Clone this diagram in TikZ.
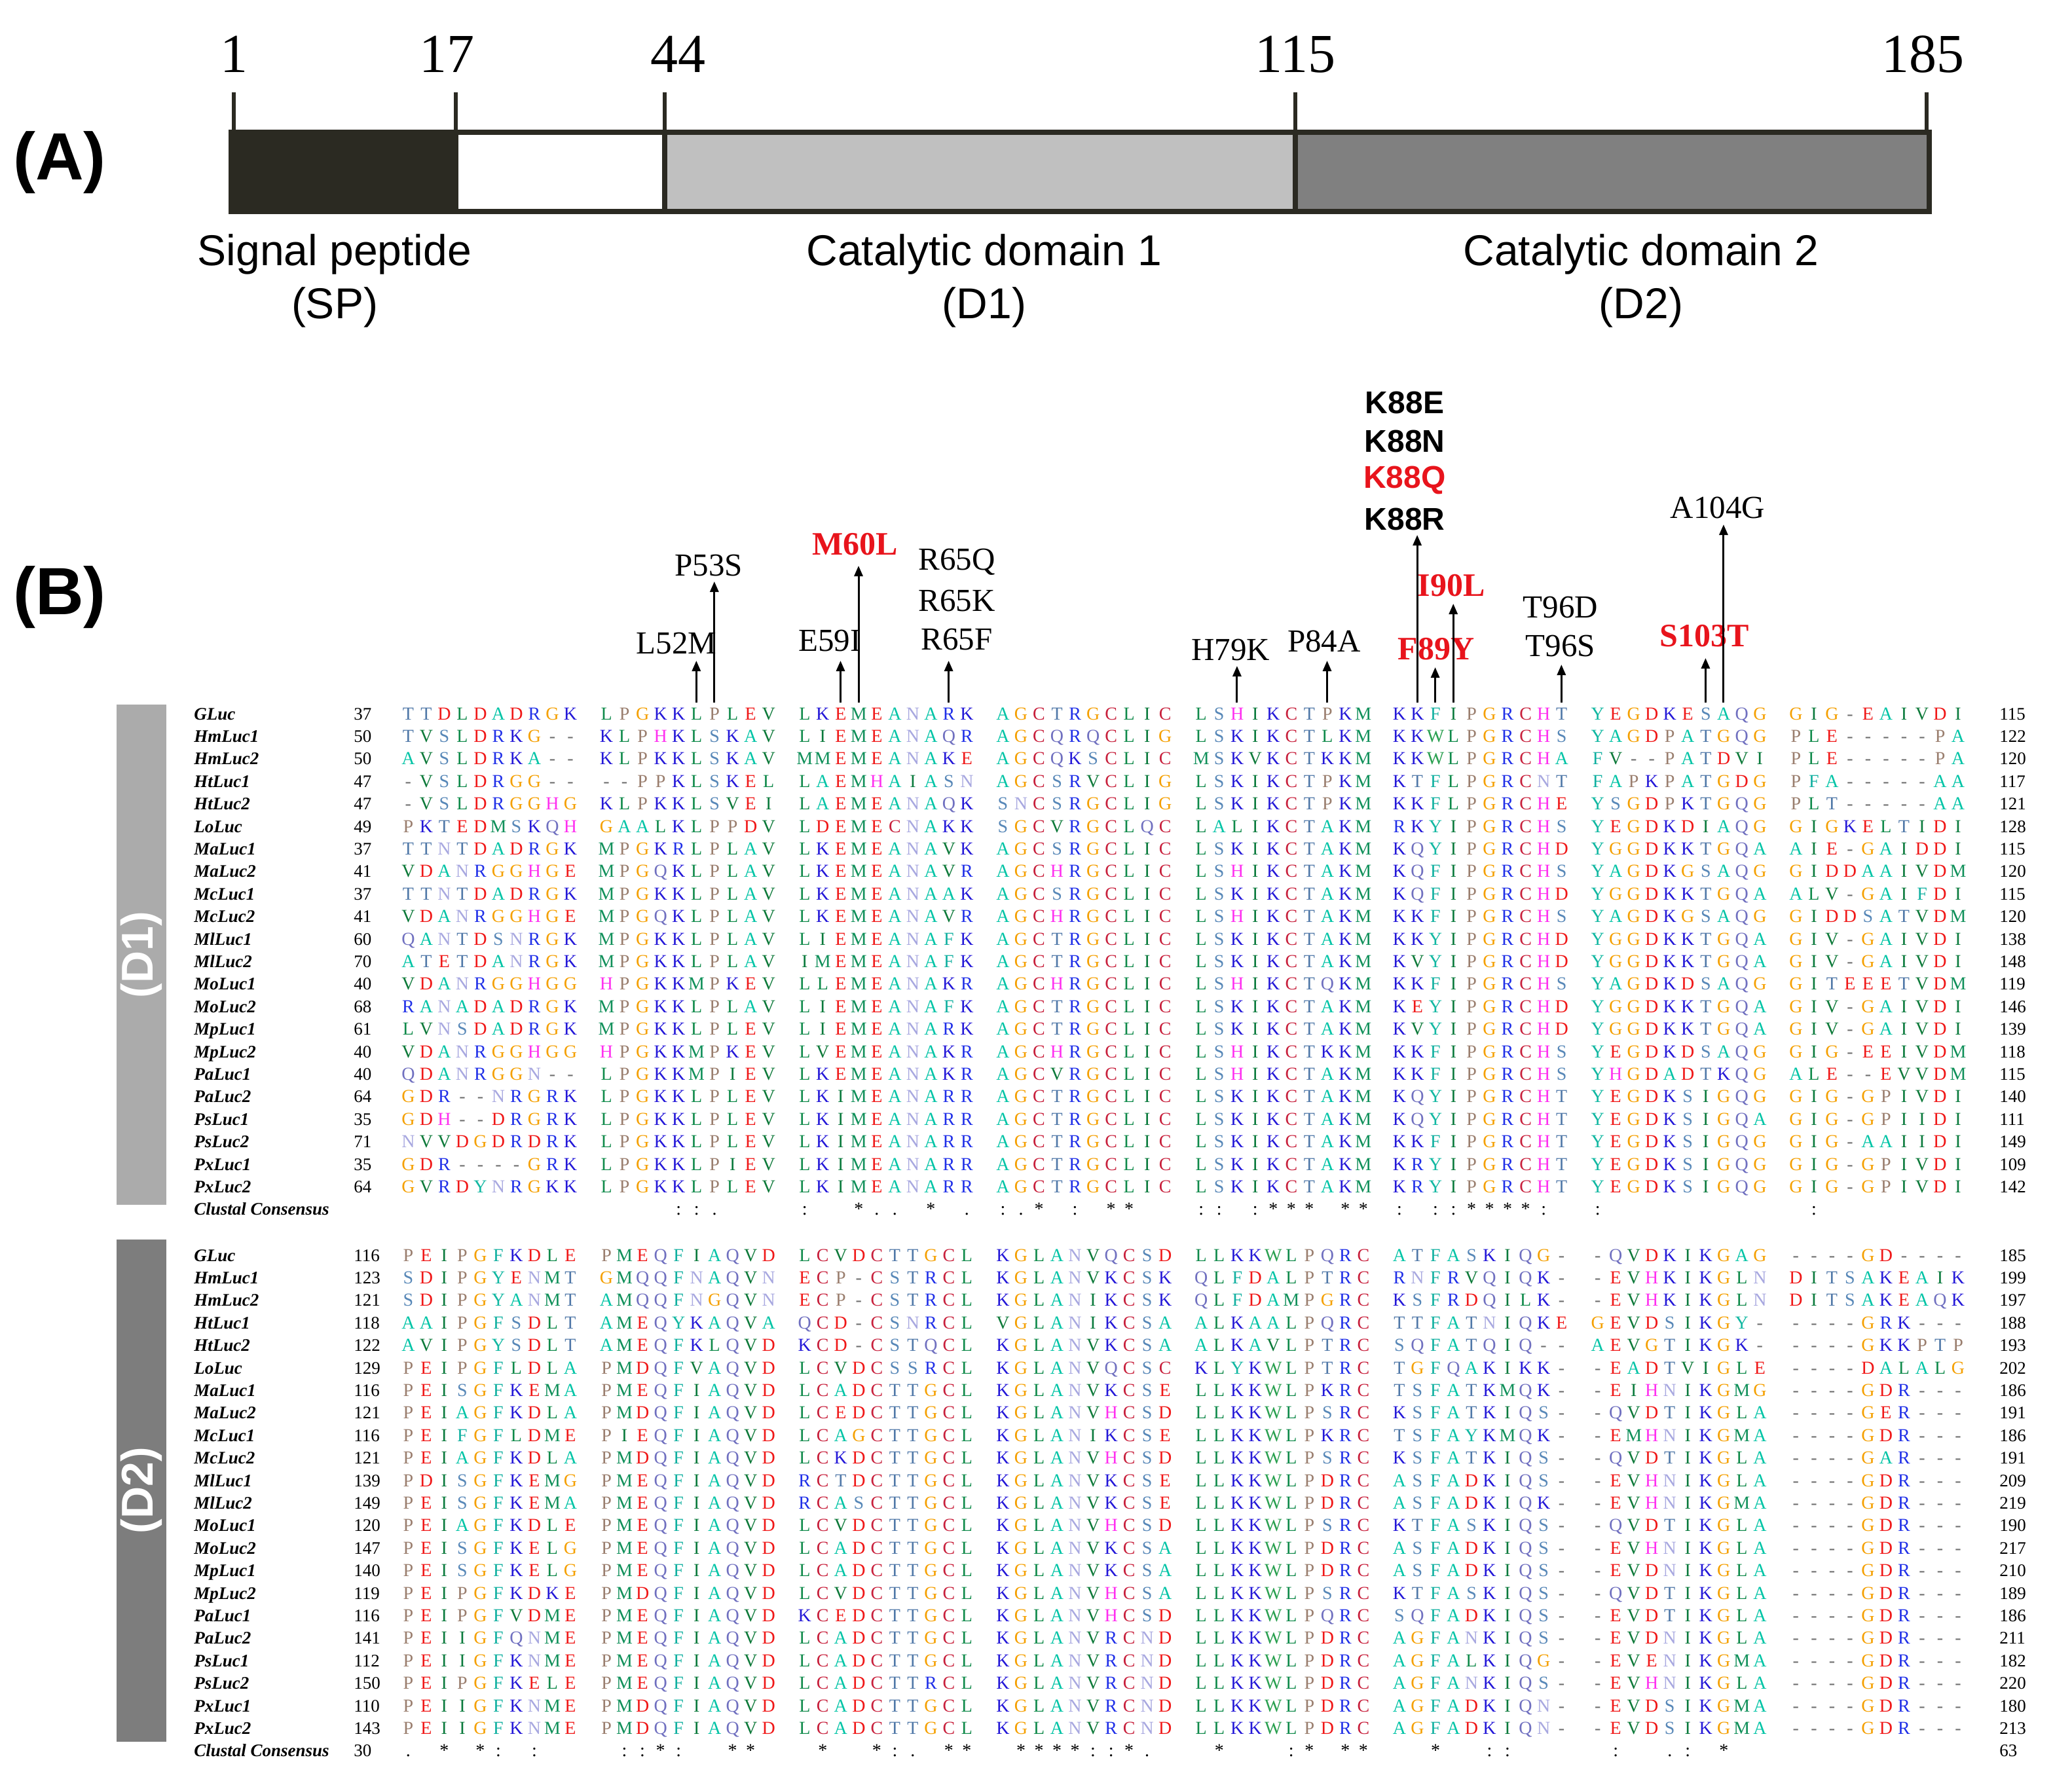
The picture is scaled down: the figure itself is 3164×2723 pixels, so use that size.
\documentclass[tikz,border=0pt]{standalone}
\usepackage{fontspec}
\setmainfont{Liberation Serif}
\newfontfamily\arialf{Liberation Sans}
\usetikzlibrary{arrows.meta}
\definecolor{spdark}{HTML}{2B2A22}
\definecolor{dgrayA}{HTML}{C0C0C0}
\definecolor{dgrayB}{HTML}{808080}
\definecolor{sideA}{HTML}{ABABAB}
\definecolor{sideB}{HTML}{7D7D7D}
\definecolor{mutred}{HTML}{E8141C}

\newdimen\aapitch \aapitch=13.76pt
\def\aadef#1#2{\expandafter\def\csname aac#1\endcsname{\color[HTML]{#2}}}
\aadef A{00C4A6}
\aadef C{C8203C}
\aadef D{F01818}
\aadef E{F01818}
\aadef F{10B0A0}
\aadef G{F5A000}
\aadef H{FF30F0}
\aadef I{0A7A3C}
\aadef K{2418D8}
\aadef L{0F8A4A}
\aadef M{10905A}
\aadef N{A8A8E0}
\aadef P{9A7E6E}
\aadef Q{7070C0}
\aadef R{2030E8}
\aadef S{5888B8}
\aadef T{5078A8}
\aadef V{0E7A3A}
\aadef W{2AA050}
\aadef Y{12B8A2}
\aadef -{707070}
\def\aabox#1{\ifx#1|\hbox to\aapitch{}\else\hbox to\aapitch{\hss\csname aac#1\endcsname #1\hss}\fi}
\def\aaseq#1{\aaloop#1\relax}
\def\aaloop#1{\ifx#1\relax\else\aabox{#1}\expandafter\aaloop\fi}
\def\cbox#1{\hbox to\aapitch{\hss\ifx#1x\else\ifx#1|\else#1\fi\fi\hss}}
\def\conseq#1{\conloop#1\relax}
\def\conloop#1{\ifx#1\relax\else\cbox{#1}\expandafter\conloop\fi}

\tikzset{
 namelab/.style={anchor=base west, inner sep=0pt, font=\fontsize{13.5}{15}\selectfont\bfseries\itshape},
 numlab/.style={anchor=base west, inner sep=0pt, font=\fontsize{13.5}{15}\selectfont},
 seqlab/.style={anchor=base west, inner sep=0pt, font=\fontsize{14}{16}\selectfont},
 topnum/.style={anchor=base, inner sep=0pt, font=\fontsize{42}{46}\selectfont},
 domlab/.style={anchor=base, inner sep=0pt, font=\arialf\fontsize{33}{40}\selectfont},
 panlab/.style={anchor=center, inner sep=0pt, font=\arialf\bfseries\fontsize{51}{56}\selectfont},
 sidelab/.style={rotate=90, text=white, inner sep=0pt, font=\arialf\bfseries\fontsize{34}{38}\selectfont},
 ann/.style={anchor=center, inner sep=0pt, font=\fontsize{24.5}{28}\selectfont},
 annred/.style={anchor=center, inner sep=0pt, text=mutred, font=\bfseries\fontsize{25}{28}\selectfont},
 annk/.style={anchor=center, inner sep=0pt, font=\arialf\bfseries\fontsize{24}{27}\selectfont},
 mutarrow/.style={-{Triangle[length=8pt,width=6.5pt]}, line width=1.5pt},
 barline/.style={draw=spdark, line width=4pt},
 tickline/.style={draw=spdark, line width=3pt},
}

\newcommand\alnrow[6]{%
 \node[namelab] (#1n) at (296,#2) {#3};
 \node[numlab] (#1s) at (540,#2) {#4};
 \node[seqlab] (#1q) at (609.2,#2) {\aaseq{#5}};
 \node[numlab] (#1e) at (3053,#2) {#6};}

\begin{document}
\begin{tikzpicture}[x=0.5pt,y=-0.5pt]
\fill[white] (0,0) rectangle (3164,2723);
\useasboundingbox (0,0) rectangle (3164,2723);

% ---------- (A) ----------
\node[panlab] (labA) at (91,248) {(A)};
\fill[spdark] (353,202) rectangle (696,323);
\fill[white] (696,202) rectangle (1015,323);
\fill[dgrayA] (1015,202) rectangle (1978,323);
\fill[dgrayB] (1978,202) rectangle (2946,323);
\draw[barline] (353,202) rectangle (2946,323);
\draw[barline] (696,202) -- (696,323);
\draw[barline] (1015,202) -- (1015,323);
\draw[barline] (1978,202) -- (1978,323);
\draw[tickline] (357,141) -- (357,202);
\draw[tickline] (696,141) -- (696,202);
\draw[tickline] (1015,141) -- (1015,202);
\draw[tickline] (1978,141) -- (1978,202);
\draw[tickline] (2942,141) -- (2942,202);
\node[topnum] (n1) at (357,111) {1};
\node[topnum] (n17) at (682,111) {17};
\node[topnum] (n44) at (1035,111) {44};
\node[topnum] (n115) at (1978,111) {115};
\node[topnum] (n185) at (2936,111) {185};
\node[domlab] (sp1) at (511,406) {Signal peptide};
\node[domlab] (sp2) at (511,487) {(SP)};
\node[domlab] (d11) at (1503,406) {Catalytic domain 1};
\node[domlab] (d12) at (1503,487) {(D1)};
\node[domlab] (d21) at (2506,406) {Catalytic domain 2};
\node[domlab] (d22) at (2506,487) {(D2)};

% ---------- (B) ----------
\node[panlab] (labB) at (91,912) {(B)};
\fill[sideA] (178,1076) rectangle (254,1840);
\node[sidelab] (sideD1) at (216,1458) {(D1)};
\fill[sideB] (178,1893) rectangle (254,2660);
\node[sidelab] (sideD2) at (216,2276) {(D2)};

% mutation labels
\node[ann] (mL52M) at (1033,983) {L52M};
\node[ann] (mP53S) at (1082,864) {P53S};
\node[annred] (mM60L) at (1306,831) {M60L};
\node[ann] (mE59I) at (1267,979) {E59I};
\node[ann] (mR65Q) at (1461,858) {R65Q};
\node[ann] (mR65K) at (1461,918) {R65K};
\node[ann] (mR65F) at (1461,977) {R65F};
\node[ann] (mH79K) at (1879,993) {H79K};
\node[ann] (mP84A) at (2022,979) {P84A};
\node[annk] (mK88E) at (2145,615) {K88E};
\node[annk] (mK88N) at (2145,674) {K88N};
\node[annk,text=mutred] (mK88Q) at (2145,733) {K88Q};
\node[annk] (mK88R) at (2145,793) {K88R};
\node[annred] (mI90L) at (2216,894) {I90L};
\node[annred] (mF89Y) at (2193,991) {F89Y};
\node[ann] (mT96D) at (2383,928) {T96D};
\node[ann] (mT96S) at (2383,987) {T96S};
\node[annred] (mS103T) at (2603,971) {S103T};
\node[ann] (mA104G) at (2623,775) {A104G};

% arrows
\foreach \nm/\xx/\tt in {L52/1063.3/1009, P53/1090.8/888, E59/1283.5/1009, M60/1311/864,
  R65/1448.6/1009, H79/1888.9/1017, P84/2026.5/1009, K88/2164.1/817, F89/2191.6/1019,
  I90/2219.2/922, T96/2384.3/1015, S103/2604.4/1005, A104/2631.9/801}{
  \coordinate (b\nm) at (\xx,1073);
  \coordinate (t\nm) at (\xx,\tt);
  \draw[mutarrow] (b\nm) -- (t\nm);
}

% ---------- D1 alignment ----------
\alnrow{da1}{1099+34.4*0}{GLuc}{37}{TTDLDADRGK|LPGKKLPLEV|LKEMEANARK|AGCTRGCLIC|LSHIKCTPKM|KKFIPGRCHT|YEGDKESAQG|GIG-EAIVDI}{115}
\alnrow{da2}{1099+34.4*1}{HmLuc1}{50}{TVSLDRKG--|KLPHKLSKAV|LIEMEANAQR|AGCQRQCLIG|LSKIKCTLKM|KKWLPGRCHS|YAGDPATGQG|PLE-----PA}{122}
\alnrow{da3}{1099+34.4*2}{HmLuc2}{50}{AVSLDRKA--|KLPKKLSKAV|MMEMEANAKE|AGCQKSCLIC|MSKVKCTKKM|KKWLPGRCHA|FV--PATDVI|PLE-----PA}{120}
\alnrow{da4}{1099+34.4*3}{HtLuc1}{47}{-VSLDRGG--|--PPKLSKEL|LAEMHAIASN|AGCSRVCLIG|LSKIKCTPKM|KTFLPGRCNT|FAPKPATGDG|PFA-----AA}{117}
\alnrow{da5}{1099+34.4*4}{HtLuc2}{47}{-VSLDRGGHG|KLPKKLSVEI|LAEMEANAQK|SNCSRGCLIG|LSKIKCTPKM|KKFLPGRCHE|YSGDPKTGQG|PLT-----AA}{121}
\alnrow{da6}{1099+34.4*5}{LoLuc}{49}{PKTEDMSKQH|GAALKLPPDV|LDEMECNAKK|SGCVRGCLQC|LALIKCTAKM|RKYIPGRCHS|YEGDKDIAQG|GIGKELTIDI}{128}
\alnrow{da7}{1099+34.4*6}{MaLuc1}{37}{TTNTDADRGK|MPGKRLPLAV|LKEMEANAVK|AGCSRGCLIC|LSKIKCTAKM|KQYIPGRCHD|YGGDKKTGQA|AIE-GAIDDI}{115}
\alnrow{da8}{1099+34.4*7}{MaLuc2}{41}{VDANRGGHGE|MPGQKLPLAV|LKEMEANAVR|AGCHRGCLIC|LSHIKCTAKM|KQFIPGRCHS|YAGDKGSAQG|GIDDAAIVDM}{120}
\alnrow{da9}{1099+34.4*8}{McLuc1}{37}{TTNTDADRGK|MPGKKLPLAV|LKEMEANAAK|AGCSRGCLIC|LSKIKCTAKM|KQFIPGRCHD|YGGDKKTGQA|ALV-GAIFDI}{115}
\alnrow{da10}{1099+34.4*9}{McLuc2}{41}{VDANRGGHGE|MPGQKLPLAV|LKEMEANAVR|AGCHRGCLIC|LSHIKCTAKM|KKFIPGRCHS|YAGDKGSAQG|GIDDSATVDM}{120}
\alnrow{da11}{1099+34.4*10}{MlLuc1}{60}{QANTDSNRGK|MPGKKLPLAV|LIEMEANAFK|AGCTRGCLIC|LSKIKCTAKM|KKYIPGRCHD|YGGDKKTGQA|GIV-GAIVDI}{138}
\alnrow{da12}{1099+34.4*11}{MlLuc2}{70}{ATETDANRGK|MPGKKLPLAV|IMEMEANAFK|AGCTRGCLIC|LSKIKCTAKM|KVYIPGRCHD|YGGDKKTGQA|GIV-GAIVDI}{148}
\alnrow{da13}{1099+34.4*12}{MoLuc1}{40}{VDANRGGHGG|HPGKKMPKEV|LLEMEANAKR|AGCHRGCLIC|LSHIKCTQKM|KKFIPGRCHS|YAGDKDSAQG|GITEEETVDM}{119}
\alnrow{da14}{1099+34.4*13}{MoLuc2}{68}{RANADADRGK|MPGKKLPLAV|LIEMEANAFK|AGCTRGCLIC|LSKIKCTAKM|KEYIPGRCHD|YGGDKKTGQA|GIV-GAIVDI}{146}
\alnrow{da15}{1099+34.4*14}{MpLuc1}{61}{LVNSDADRGK|MPGKKLPLEV|LIEMEANARK|AGCTRGCLIC|LSKIKCTAKM|KVYIPGRCHD|YGGDKKTGQA|GIV-GAIVDI}{139}
\alnrow{da16}{1099+34.4*15}{MpLuc2}{40}{VDANRGGHGG|HPGKKMPKEV|LVEMEANAKR|AGCHRGCLIC|LSHIKCTKKM|KKFIPGRCHS|YEGDKDSAQG|GIG-EEIVDM}{118}
\alnrow{da17}{1099+34.4*16}{PaLuc1}{40}{QDANRGGN--|LPGKKMPIEV|LKEMEANAKR|AGCVRGCLIC|LSHIKCTAKM|KKFIPGRCHS|YHGDADTKQG|ALE--EVVDM}{115}
\alnrow{da18}{1099+34.4*17}{PaLuc2}{64}{GDR--NRGRK|LPGKKLPLEV|LKIMEANARR|AGCTRGCLIC|LSKIKCTAKM|KQYIPGRCHT|YEGDKSIGQG|GIG-GPIVDI}{140}
\alnrow{da19}{1099+34.4*18}{PsLuc1}{35}{GDH--DRGRK|LPGKKLPLEV|LKIMEANARR|AGCTRGCLIC|LSKIKCTAKM|KQYIPGRCHT|YEGDKSIGQA|GIG-GPIIDI}{111}
\alnrow{da20}{1099+34.4*19}{PsLuc2}{71}{NVVDGDRDRK|LPGKKLPLEV|LKIMEANARR|AGCTRGCLIC|LSKIKCTAKM|KKFIPGRCHT|YEGDKSIGQG|GIG-AAIIDI}{149}
\alnrow{da21}{1099+34.4*20}{PxLuc1}{35}{GDR----GRK|LPGKKLPIEV|LKIMEANARR|AGCTRGCLIC|LSKIKCTAKM|KRYIPGRCHT|YEGDKSIGQG|GIG-GPIVDI}{109}
\alnrow{da22}{1099+34.4*21}{PxLuc2}{64}{GVRDYNRGKK|LPGKKLPLEV|LKIMEANARR|AGCTRGCLIC|LSKIKCTAKM|KRYIPGRCHT|YEGDKSIGQG|GIG-GPIVDI}{142}
\node[namelab] (dacn) at (296,1099+34.4*22) {Clustal Consensus};
\node[seqlab] (dacq) at (609.2,1099+34.4*22) {\conseq{xxxxxxxxxx|xxxx::.xxx|:xx*..x*x.|:.*x:x**xx|::x:***x**|:x::****:x|:xxxxxxxxx|x:xxxxxxxx}};

% ---------- D2 alignment ----------
\alnrow{db1}{1926+34.4*0}{GLuc}{116}{PEIPGFKDLE|PMEQFIAQVD|LCVDCTTGCL|KGLANVQCSD|LLKKWLPQRC|ATFASKIQG-|-QVDKIKGAG|----GD----}{185}
\alnrow{db2}{1926+34.4*1}{HmLuc1}{123}{SDIPGYENMT|GMQQFNAQVN|ECP-CSTRCL|KGLANVKCSK|QLFDALPTRC|RNFRVQIQK-|-EVHKIKGLN|DITSAKEAIK}{199}
\alnrow{db3}{1926+34.4*2}{HmLuc2}{121}{SDIPGYANMT|AMQQFNGQVN|ECP-CSTRCL|KGLANIKCSK|QLFDAMPGRC|KSFRDQILK-|-EVHKIKGLN|DITSAKEAQK}{197}
\alnrow{db4}{1926+34.4*3}{HtLuc1}{118}{AAIPGFSDLT|AMEQYKAQVA|QCD-CSNRCL|VGLANIKCSA|ALKAALPQRC|TTFATNIQKE|GEVDSIKGY-|----GRK---}{188}
\alnrow{db5}{1926+34.4*4}{HtLuc2}{122}{AVIPGYSDLT|AMEQFKLQVD|KCD-CSTQCL|KGLANVKCSA|ALKAVLPTRC|SQFATQIQ--|AEVGTIKGK-|----GKKPTP}{193}
\alnrow{db6}{1926+34.4*5}{LoLuc}{129}{PEIPGFLDLA|PMDQFVAQVD|LCVDCSSRCL|KGLANVQCSC|KLYKWLPTRC|TGFQAKIKK-|-EADTVIGLE|----DALALG}{202}
\alnrow{db7}{1926+34.4*6}{MaLuc1}{116}{PEISGFKEMA|PMEQFIAQVD|LCADCTTGCL|KGLANVKCSE|LLKKWLPKRC|TSFATKMQK-|-EIHNIKGMG|----GDR---}{186}
\alnrow{db8}{1926+34.4*7}{MaLuc2}{121}{PEIAGFKDLA|PMDQFIAQVD|LCEDCTTGCL|KGLANVHCSD|LLKKWLPSRC|KSFATKIQS-|-QVDTIKGLA|----GER---}{191}
\alnrow{db9}{1926+34.4*8}{McLuc1}{116}{PEIFGFLDME|PIEQFIAQVD|LCAGCTTGCL|KGLANIKCSE|LLKKWLPKRC|TSFAYKMQK-|-EMHNIKGMA|----GDR---}{186}
\alnrow{db10}{1926+34.4*9}{McLuc2}{121}{PEIAGFKDLA|PMDQFIAQVD|LCKDCTTGCL|KGLANVHCSD|LLKKWLPSRC|KSFATKIQS-|-QVDTIKGLA|----GAR---}{191}
\alnrow{db11}{1926+34.4*10}{MlLuc1}{139}{PDISGFKEMG|PMEQFIAQVD|RCTDCTTGCL|KGLANVKCSE|LLKKWLPDRC|ASFADKIQS-|-EVHNIKGLA|----GDR---}{209}
\alnrow{db12}{1926+34.4*11}{MlLuc2}{149}{PEISGFKEMA|PMEQFIAQVD|RCASCTTGCL|KGLANVKCSE|LLKKWLPDRC|ASFADKIQK-|-EVHNIKGMA|----GDR---}{219}
\alnrow{db13}{1926+34.4*12}{MoLuc1}{120}{PEIAGFKDLE|PMEQFIAQVD|LCVDCTTGCL|KGLANVHCSD|LLKKWLPSRC|KTFASKIQS-|-QVDTIKGLA|----GDR---}{190}
\alnrow{db14}{1926+34.4*13}{MoLuc2}{147}{PEISGFKELG|PMEQFIAQVD|LCADCTTGCL|KGLANVKCSA|LLKKWLPDRC|ASFADKIQS-|-EVHNIKGLA|----GDR---}{217}
\alnrow{db15}{1926+34.4*14}{MpLuc1}{140}{PEISGFKELG|PMEQFIAQVD|LCADCTTGCL|KGLANVKCSA|LLKKWLPDRC|ASFADKIQS-|-EVDNIKGLA|----GDR---}{210}
\alnrow{db16}{1926+34.4*15}{MpLuc2}{119}{PEIPGFKDKE|PMDQFIAQVD|LCVDCTTGCL|KGLANVHCSA|LLKKWLPSRC|KTFASKIQS-|-QVDTIKGLA|----GDR---}{189}
\alnrow{db17}{1926+34.4*16}{PaLuc1}{116}{PEIPGFVDME|PMEQFIAQVD|KCEDCTTGCL|KGLANVHCSD|LLKKWLPQRC|SQFADKIQS-|-EVDTIKGLA|----GDR---}{186}
\alnrow{db18}{1926+34.4*17}{PaLuc2}{141}{PEIIGFQNME|PMEQFIAQVD|LCADCTTGCL|KGLANVRCND|LLKKWLPDRC|AGFANKIQS-|-EVDNIKGLA|----GDR---}{211}
\alnrow{db19}{1926+34.4*18}{PsLuc1}{112}{PEIIGFKNME|PMEQFIAQVD|LCADCTTGCL|KGLANVRCND|LLKKWLPDRC|AGFALKIQG-|-EVENIKGMA|----GDR---}{182}
\alnrow{db20}{1926+34.4*19}{PsLuc2}{150}{PEIPGFKELE|PMEQFIAQVD|LCADCTTRCL|KGLANVRCND|LLKKWLPDRC|AGFANKIQS-|-EVHNIKGLA|----GDR---}{220}
\alnrow{db21}{1926+34.4*20}{PxLuc1}{110}{PEIIGFKNME|PMDQFIAQVD|LCADCTTGCL|KGLANVRCND|LLKKWLPDRC|AGFADKIQN-|-EVDSIKGMA|----GDR---}{180}
\alnrow{db22}{1926+34.4*21}{PxLuc2}{143}{PEIIGFKNME|PMDQFIAQVD|LCADCTTGCL|KGLANVRCND|LLKKWLPDRC|AGFADKIQN-|-EVDSIKGMA|----GDR---}{213}
\node[namelab] (dbcn) at (296,1926+34.4*22) {Clustal Consensus};
\node[numlab] (dbcs) at (540,1926+34.4*22) {30};
\node[seqlab] (dbcq) at (609.2,1926+34.4*22) {\conseq{.x*x*:x:xx|x::*:xx**x|x*xx*:.x**|x****::*.x|x*xxx:*x**|xx*xx::xxx|x:xx.:x*xx|xxxxxxxxxx}};
\node[numlab] (dbce) at (3053,1926+34.4*22) {63};
\end{tikzpicture}
\end{document}
